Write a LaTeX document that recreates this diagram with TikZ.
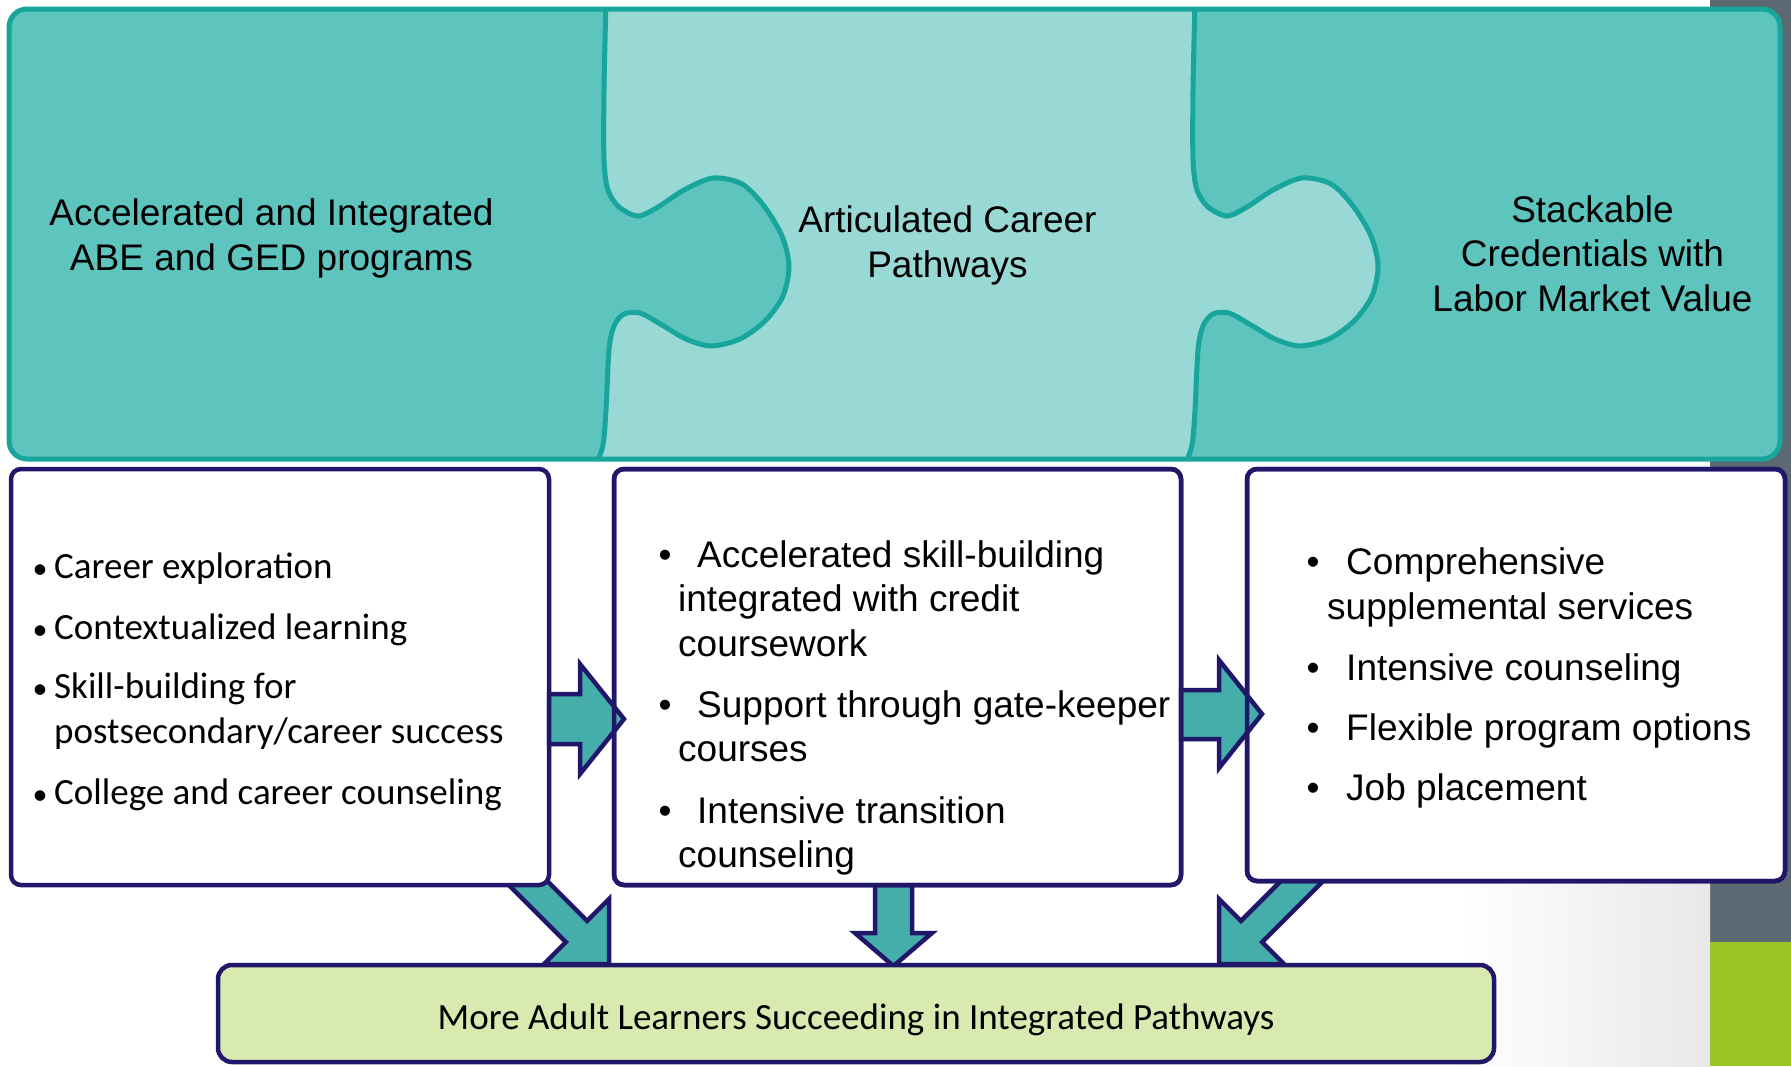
\documentclass[tikz,border=0pt]{standalone}
\usepackage{fontspec}
\newfontfamily\arialf{Liberation Sans}
\newfontfamily\calf{Carlito}
\definecolor{tealdark}{HTML}{5EC4BE}
\definecolor{teallight}{HTML}{98D9D5}
\definecolor{tealline}{HTML}{17A59C}
\definecolor{arrowfill}{HTML}{45ADAA}
\definecolor{navy}{HTML}{21176A}
\definecolor{lightgreen}{HTML}{D9EAB1}
\definecolor{stripgray}{HTML}{5D6972}
\definecolor{stripgreen}{HTML}{98C424}
\begin{document}
\begin{tikzpicture}[x=1pt,y=-1pt,
  boxstyle/.style={draw=navy, line width=4.5pt, rounded corners=10pt, fill=white, inner sep=0pt, outer sep=0pt, anchor=north west},
  blockarrow/.style={fill=arrowfill, draw=navy, line width=4.5pt, line join=miter},
  ptext/.style={anchor=base, inner sep=0pt, font=\arialf\fontsize{37}{44}\selectfont},
  atext/.style={anchor=base west, inner sep=0pt, font=\arialf\fontsize{37}{44}\selectfont},
  ctext/.style={anchor=base west, inner sep=0pt, font=\calf\fontsize{37}{44}\selectfont},
  abul/.style={anchor=base, inner sep=0pt, font=\arialf\fontsize{37}{44}\selectfont},
  cbul/.style={anchor=base, inner sep=0pt, font=\calf\fontsize{30}{36}\selectfont},
  ctr/.style={anchor=base, inner sep=0pt, font=\calf\fontsize{37}{44}\selectfont},
  puzzleline/.style={draw=tealline, line width=5pt}
]
\useasboundingbox (0,0) rectangle (1791,1066);
% background strips
\fill[stripgray] (1710,0) rectangle (1791,942);
\fill[stripgreen] (1710,942) rectangle (1791,1066);
\shade[left color=white, right color=black!9] (1460,870) rectangle (1710,1066);

% puzzle band
\begin{scope}
\clip[rounded corners=18pt] (9,9) rectangle (1780,459);
\fill[tealdark] (0,0) rectangle (1791,470);
\fill[teallight] plot[smooth,tension=.5] coordinates {(606,0) (604,90) (604,160) (608,190) (619,207) (638,216) (658,207) (684,190) (713,178) (742,184) (764,206) (782,236) (789,266) (783,296) (765,321) (740,339) (711,346) (686,339) (662,325) (640,313) (624,314) (614,326) (609,350) (606,410) (603,445) (596,465)} -- (1800,465) -- (1800,0) -- cycle;
\begin{scope}[xshift=589pt]
\fill[tealdark] plot[smooth,tension=.5] coordinates {(606,0) (604,90) (604,160) (608,190) (619,207) (638,216) (658,207) (684,190) (713,178) (742,184) (764,206) (782,236) (789,266) (783,296) (765,321) (740,339) (711,346) (686,339) (662,325) (640,313) (624,314) (614,326) (609,350) (606,410) (603,445) (596,465)} -- (1800,465) -- (1800,0) -- cycle;
\end{scope}
\draw[puzzleline] plot[smooth,tension=.5] coordinates {(606,0) (604,90) (604,160) (608,190) (619,207) (638,216) (658,207) (684,190) (713,178) (742,184) (764,206) (782,236) (789,266) (783,296) (765,321) (740,339) (711,346) (686,339) (662,325) (640,313) (624,314) (614,326) (609,350) (606,410) (603,445) (596,465)};
\begin{scope}[xshift=589pt]
\draw[puzzleline] plot[smooth,tension=.5] coordinates {(606,0) (604,90) (604,160) (608,190) (619,207) (638,216) (658,207) (684,190) (713,178) (742,184) (764,206) (782,236) (789,266) (783,296) (765,321) (740,339) (711,346) (686,339) (662,325) (640,313) (624,314) (614,326) (609,350) (606,410) (603,445) (596,465)};
\end{scope}
\end{scope}
\draw[puzzleline, rounded corners=18pt] (9,9) rectangle (1780,459);

% puzzle texts
\node[ptext] (p1a) at (271.5,225) {Accelerated and Integrated};
\node[ptext] (p1b) at (271.5,270) {ABE and GED programs};
\node[ptext] (p2a) at (947.5,232) {Articulated Career};
\node[ptext] (p2b) at (947.5,277) {Pathways};
\node[ptext] (p3a) at (1592.5,222) {Stackable};
\node[ptext] (p3b) at (1592.5,266.5) {Credentials with};
\node[ptext] (p3c) at (1592.5,311) {Labor Market Value};

% arrows behind boxes
\draw[blockarrow] (510.6,844.4) -- (587.1,920.9) -- (609,899) -- (609,964) -- (544,964) -- (565.9,942.1) -- (489.4,865.6) -- cycle;
\draw[blockarrow] (1317.4,844.4) -- (1240.9,920.9) -- (1219,899) -- (1219,964) -- (1284,964) -- (1262.1,942.1) -- (1338.6,865.6) -- cycle;
\draw[blockarrow] (875,870) -- (875,933) -- (855,933) -- (893.5,966) -- (932,933) -- (912,933) -- (912,870) -- cycle;

% boxes
\node[boxstyle, minimum width=538pt, minimum height=416pt] (b1) at (11,469) {};
\node[boxstyle, minimum width=567pt, minimum height=416pt] (b2) at (614,469) {};
\node[boxstyle, minimum width=538pt, minimum height=412pt] (b3) at (1247,469) {};
\node[boxstyle, fill=lightgreen, rounded corners=14pt, minimum width=1276pt, minimum height=97pt] (b4) at (218,965) {};

% horizontal arrows
\draw[blockarrow] (b1.east |- 0,694) -- (580,694) -- (580,664) -- (624,719) -- (580,774) -- (580,744) -- (b1.east |- 0,744) -- cycle;
\draw[blockarrow] (b2.east |- 0,690) -- (1219,690) -- (1219,660) -- (1262,714) -- (1219,768) -- (1219,739) -- (b2.east |- 0,739) -- cycle;
\draw[navy, line width=4.5pt, rounded corners=10pt] (b2.north west) rectangle (b2.south east);
\draw[navy, line width=4.5pt, rounded corners=10pt] (b3.north west) rectangle (b3.south east);

% box 1 text
\node[cbul] (u1) at (40,578) {•};
\node[ctext] (l1) at (54,578) {Career exploration};
\node[cbul] (u2) at (40,639) {•};
\node[ctext] (l2) at (54,639) {Contextualized learning};
\node[cbul] (u3) at (40,698) {•};
\node[ctext] (l3) at (54,698) {Skill-building for};
\node[ctext] (l3b) at (54,743) {postsecondary/career success};
\node[cbul] (u4) at (40,804) {•};
\node[ctext] (l4) at (54,804) {College and career counseling};

% box 2 text
\node[abul] (v1) at (665,567) {•};
\node[atext] (m1) at (697,567) {Accelerated skill-building};
\node[atext] (m1b) at (678,611.5) {integrated with credit};
\node[atext] (m1c) at (678,656) {coursework};
\node[abul] (v2) at (665,717) {•};
\node[atext] (m2) at (697,717) {Support through gate-keeper};
\node[atext] (m2b) at (678,761.5) {courses};
\node[abul] (v3) at (665,823) {•};
\node[atext] (m3) at (697,823) {Intensive transition};
\node[atext] (m3b) at (678,867.5) {counseling};

% box 3 text
\node[abul] (w1) at (1313,574) {•};
\node[atext] (r1) at (1346,574) {Comprehensive};
\node[atext] (r1b) at (1327,619) {supplemental services};
\node[abul] (w2) at (1313,680) {•};
\node[atext] (r2) at (1346,680) {Intensive counseling};
\node[abul] (w3) at (1313,740) {•};
\node[atext] (r3) at (1346,740) {Flexible program options};
\node[abul] (w4) at (1313,800) {•};
\node[atext] (r4) at (1346,800) {Job placement};

% bottom text
\node[ctr] (out) at (856,1029) {More Adult Learners Succeeding in Integrated Pathways};
\end{tikzpicture}
\end{document}
